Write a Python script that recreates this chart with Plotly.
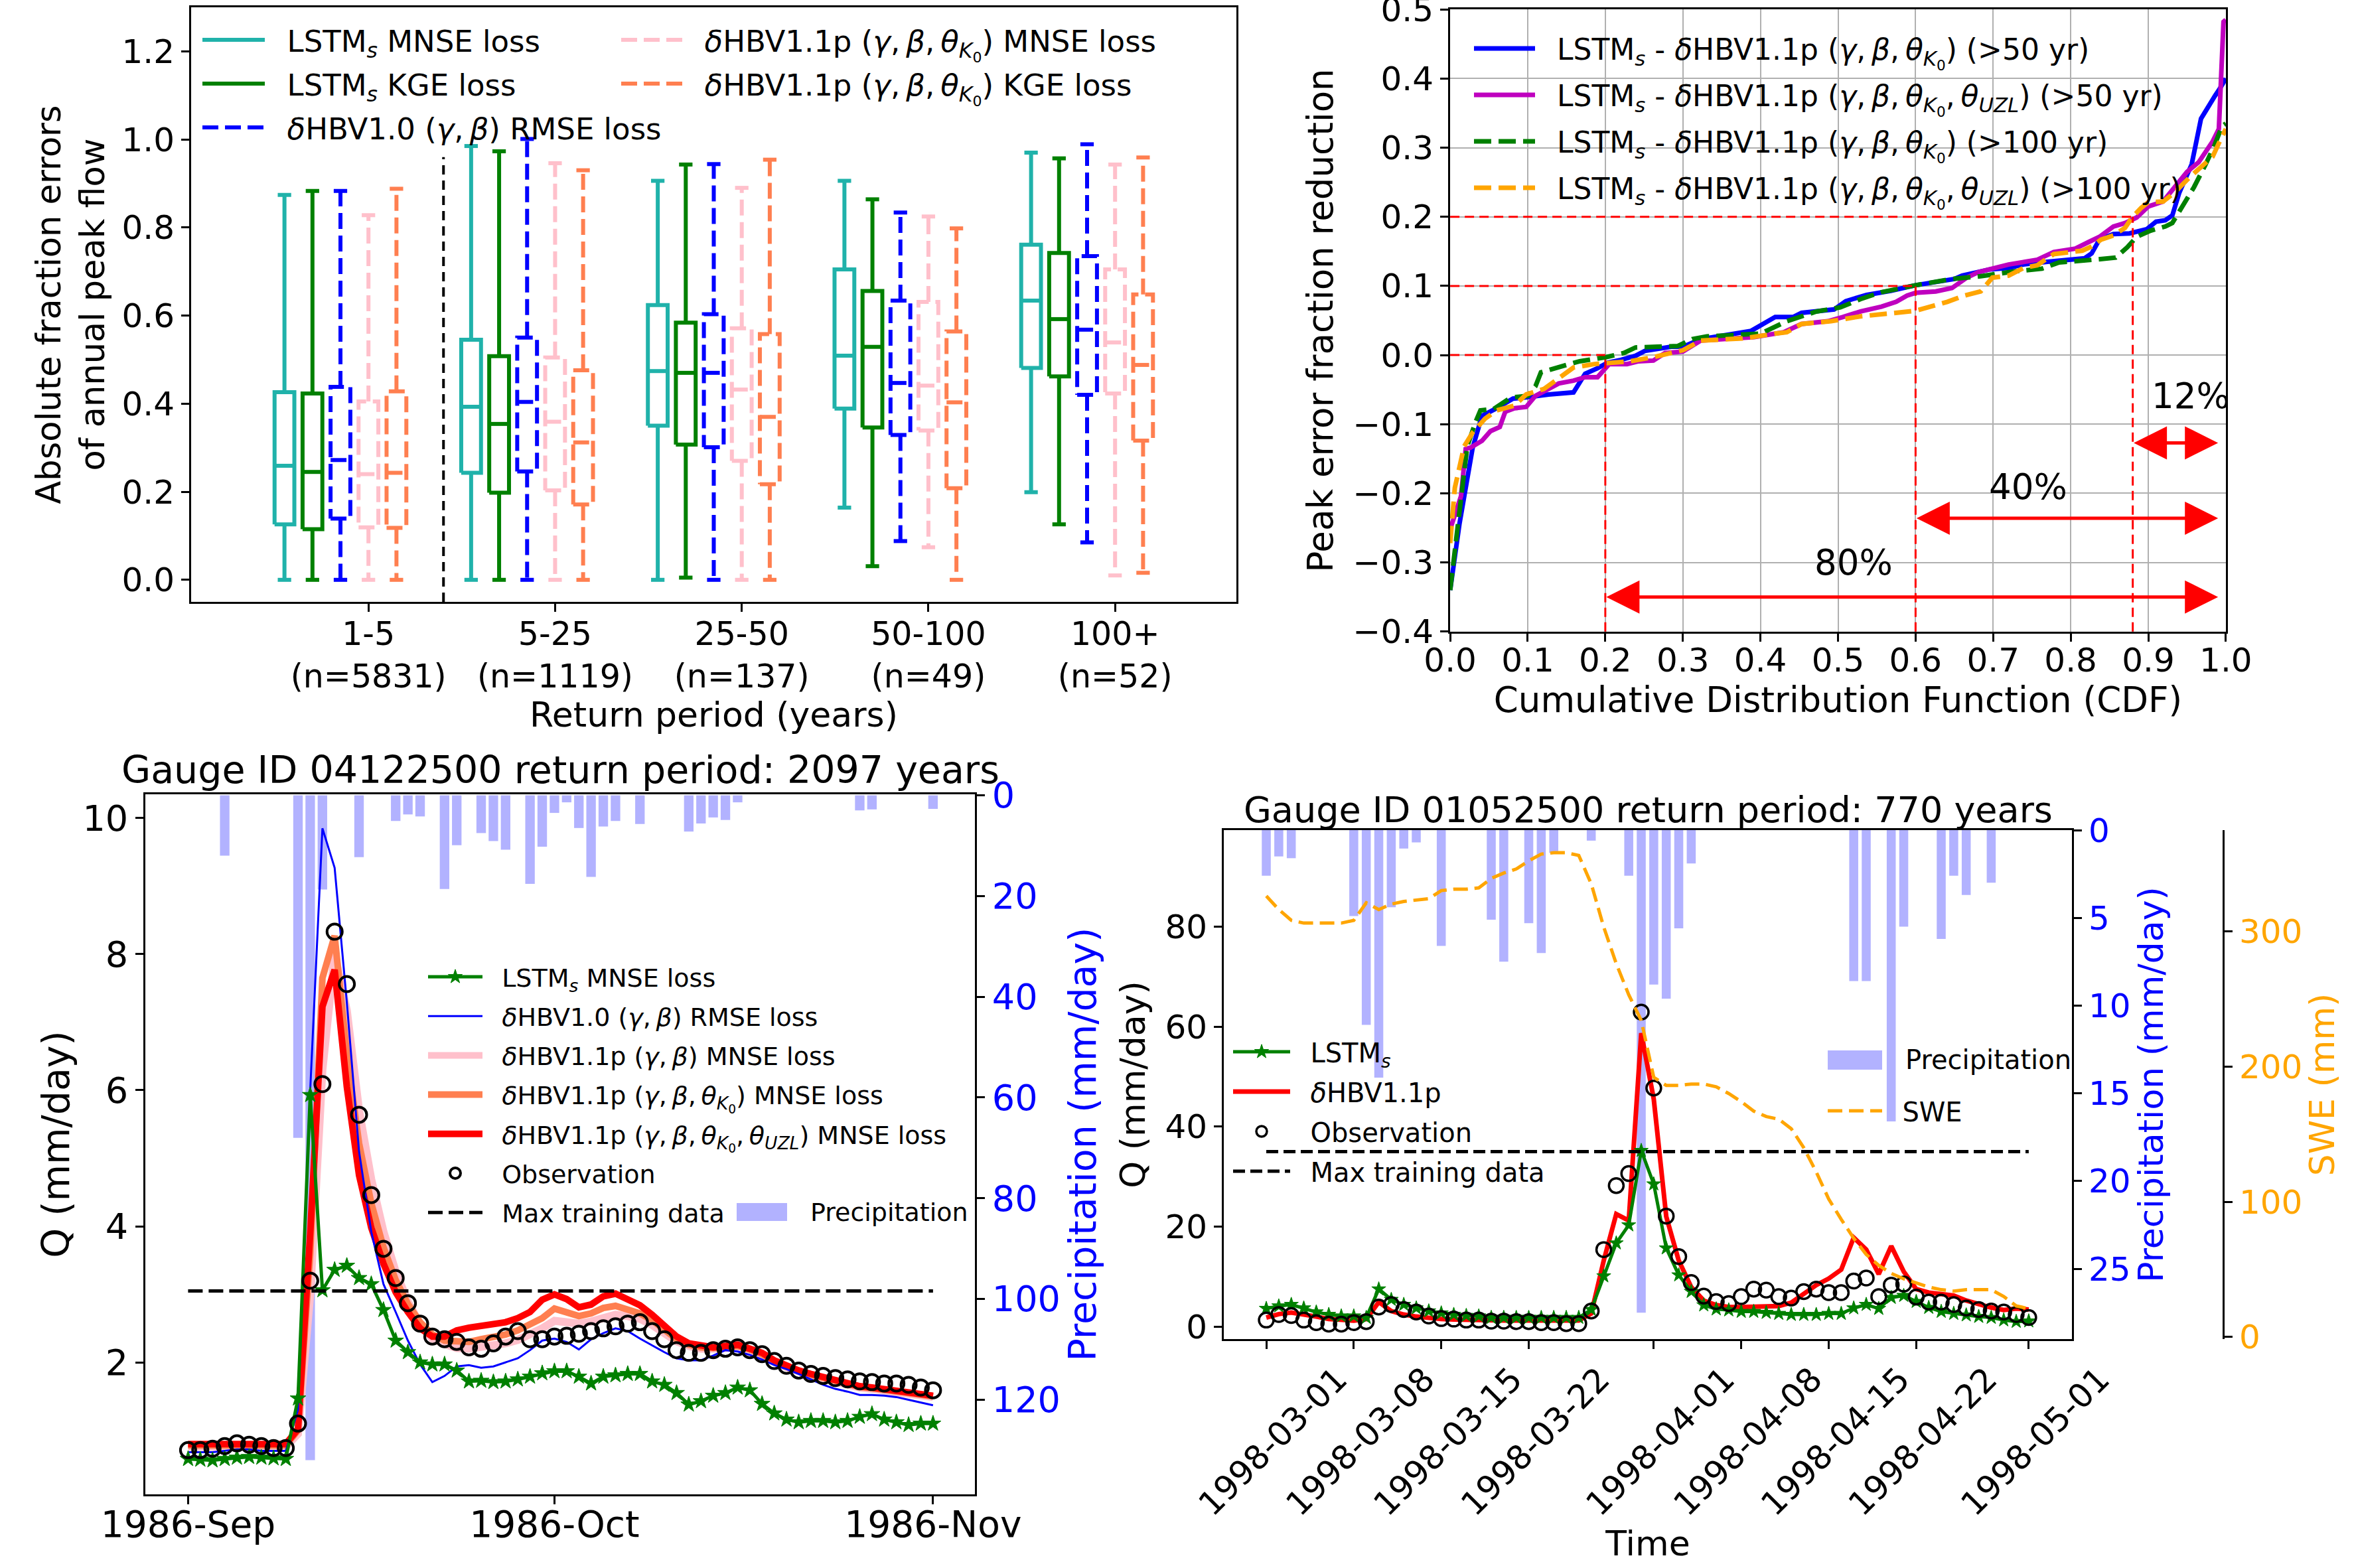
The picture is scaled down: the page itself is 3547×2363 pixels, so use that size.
import datetime as dt
import plotly.graph_objects as go

W, H = 3547, 2363
FONT = "DejaVu Sans"
NB = "\u00a0\u00a0"
TS = ",\u2009"

def px(p):
    return p / W

def py(p):
    return 1 - p / H

# ================= Panel A: box statistics =================
group_labels = ["1-5<br>(n=5831)", "5-25<br>(n=1119)", "25-50<br>(n=137)",
                "50-100<br>(n=49)", "100+<br>(n=52)"]
group_pos = [1, 2, 3, 4, 5]

lstm_mnse_low = [0.0, 0.0, 0.0, 0.164, 0.199]
lstm_mnse_q1 = [0.126, 0.243, 0.350, 0.389, 0.481]
lstm_mnse_med = [0.259, 0.393, 0.474, 0.509, 0.634]
lstm_mnse_q3 = [0.426, 0.545, 0.624, 0.705, 0.761]
lstm_mnse_high = [0.874, 0.985, 0.906, 0.906, 0.970]

lstm_kge_low = [0.0, 0.0, 0.005, 0.031, 0.126]
lstm_kge_q1 = [0.115, 0.198, 0.307, 0.346, 0.462]
lstm_kge_med = [0.245, 0.354, 0.470, 0.529, 0.592]
lstm_kge_q3 = [0.423, 0.508, 0.584, 0.656, 0.742]
lstm_kge_high = [0.883, 0.973, 0.943, 0.864, 0.957]

hbv10_low = [0.0, 0.0, 0.0, 0.088, 0.085]
hbv10_q1 = [0.139, 0.246, 0.301, 0.329, 0.420]
hbv10_med = [0.272, 0.404, 0.470, 0.447, 0.568]
hbv10_q3 = [0.438, 0.550, 0.603, 0.634, 0.735]
hbv10_high = [0.883, 1.001, 0.944, 0.834, 0.989]

hbv11_mnse_low = [0.0, 0.0, 0.0, 0.074, 0.010]
hbv11_mnse_q1 = [0.119, 0.203, 0.270, 0.339, 0.423]
hbv11_mnse_med = [0.240, 0.359, 0.432, 0.441, 0.539]
hbv11_mnse_q3 = [0.405, 0.505, 0.571, 0.631, 0.705]
hbv11_mnse_high = [0.828, 0.946, 0.890, 0.825, 0.943]

hbv11_kge_low = [0.0, 0.0, 0.0, 0.0, 0.016]
hbv11_kge_q1 = [0.118, 0.171, 0.217, 0.208, 0.316]
hbv11_kge_med = [0.243, 0.312, 0.370, 0.403, 0.488]
hbv11_kge_q3 = [0.428, 0.476, 0.558, 0.564, 0.648]
hbv11_kge_high = [0.888, 0.930, 0.954, 0.798, 0.959]

# ================= Panel B: CDF curves =================
cdf_a = [0.0, 0.012, 0.029, 0.041, 0.058, 0.081, 0.100, 0.127, 0.159, 0.174, 0.190, 0.203, 0.220,
         0.239, 0.251, 0.285, 0.300, 0.323, 0.388, 0.419, 0.442, 0.453, 0.495, 0.510, 0.537,
         0.568, 0.600, 0.632, 0.650, 0.660, 0.678, 0.696, 0.720, 0.739, 0.770, 0.818, 0.827,
         0.837, 0.855, 0.876, 0.898, 0.910, 0.922, 0.931, 0.940, 0.956, 0.968, 0.977, 0.986,
         0.992, 1.0]
val_a = [-0.340, -0.244, -0.134, -0.088, -0.078, -0.063, -0.061, -0.057, -0.054, -0.027, -0.019,
         -0.011, -0.007, -0.001, 0.006, 0.012, 0.012, 0.023, 0.035, 0.055, 0.055, 0.061, 0.066,
         0.078, 0.087, 0.093, 0.101, 0.107, 0.110, 0.115, 0.120, 0.124, 0.126, 0.131, 0.135,
         0.140, 0.147, 0.167, 0.175, 0.176, 0.182, 0.193, 0.195, 0.202, 0.235, 0.276, 0.342,
         0.360, 0.375, 0.385, 0.400]

cdf_b = [0.0, 0.014, 0.020, 0.026, 0.041, 0.052, 0.064, 0.071, 0.083, 0.098, 0.110, 0.140, 0.159,
         0.174, 0.190, 0.205, 0.228, 0.243, 0.262, 0.277, 0.300, 0.323, 0.392, 0.415, 0.430,
         0.453, 0.487, 0.506, 0.529, 0.556, 0.575, 0.589, 0.600, 0.626, 0.647, 0.666, 0.681,
         0.720, 0.757, 0.778, 0.806, 0.824, 0.837, 0.855, 0.870, 0.885, 0.900, 0.919, 0.934,
         0.950, 0.965, 0.983, 0.991, 0.997, 1.0]
val_b = [-0.252, -0.204, -0.136, -0.134, -0.124, -0.110, -0.104, -0.082, -0.077, -0.075, -0.059,
         -0.041, -0.037, -0.032, -0.032, -0.013, -0.013, -0.009, -0.008, 0.003, 0.005, 0.021,
         0.026, 0.031, 0.033, 0.045, 0.049, 0.055, 0.063, 0.070, 0.077, 0.086, 0.090, 0.092,
         0.097, 0.112, 0.120, 0.131, 0.138, 0.149, 0.154, 0.164, 0.171, 0.186, 0.191, 0.199,
         0.215, 0.222, 0.243, 0.265, 0.279, 0.309, 0.327, 0.482, 0.485]

cdf_c = [0.0, 0.010, 0.022, 0.033, 0.039, 0.056, 0.075, 0.083, 0.100, 0.110, 0.117, 0.148, 0.167,
         0.201, 0.224, 0.239, 0.293, 0.312, 0.331, 0.400, 0.415, 0.434, 0.472, 0.503, 0.529,
         0.556, 0.600, 0.647, 0.684, 0.727, 0.763, 0.785, 0.830, 0.858, 0.873, 0.885, 0.903,
         0.922, 0.931, 0.943, 0.959, 0.974, 0.986, 0.995, 1.0]
val_c = [-0.340, -0.244, -0.132, -0.096, -0.080, -0.078, -0.064, -0.061, -0.059, -0.045, -0.025,
         -0.015, -0.009, -0.003, 0.003, 0.011, 0.013, 0.023, 0.027, 0.031, 0.039, 0.049, 0.063,
         0.069, 0.081, 0.091, 0.101, 0.110, 0.114, 0.121, 0.125, 0.134, 0.138, 0.141, 0.156,
         0.171, 0.180, 0.186, 0.191, 0.213, 0.243, 0.276, 0.305, 0.331, 0.335]

cdf_d = [0.0, 0.006, 0.018, 0.029, 0.045, 0.060, 0.083, 0.098, 0.121, 0.144, 0.159, 0.186, 0.209,
         0.232, 0.262, 0.300, 0.323, 0.377, 0.419, 0.434, 0.453, 0.491, 0.529, 0.556, 0.586,
         0.600, 0.641, 0.663, 0.684, 0.699, 0.720, 0.739, 0.757, 0.778, 0.815, 0.827, 0.839,
         0.855, 0.870, 0.879, 0.891, 0.900, 0.919, 0.934, 0.953, 0.968, 0.983, 0.992, 1.0]
val_d = [-0.272, -0.192, -0.132, -0.112, -0.092, -0.080, -0.073, -0.057, -0.049, -0.029, -0.018,
         -0.013, -0.011, -0.009, -0.003, 0.007, 0.021, 0.024, 0.031, 0.033, 0.045, 0.049, 0.056,
         0.059, 0.063, 0.064, 0.077, 0.086, 0.092, 0.112, 0.115, 0.126, 0.130, 0.146, 0.151,
         0.157, 0.167, 0.173, 0.184, 0.199, 0.213, 0.221, 0.222, 0.235, 0.257, 0.272, 0.287,
         0.309, 0.327]

# ================= Panel C: gauge 04122500 =================
c_start = dt.date(1986, 9, 1)
c_obs = [0.71, 0.71, 0.73, 0.77, 0.81, 0.79, 0.77, 0.74, 0.74, 1.10, 3.20, 6.09, 8.33, 7.56, 5.64,
         4.46, 3.67, 3.24, 2.87, 2.57, 2.38, 2.34, 2.30, 2.22, 2.20, 2.28, 2.38, 2.46, 2.34, 2.34,
         2.38, 2.39, 2.42, 2.46, 2.50, 2.53, 2.57, 2.59, 2.46, 2.34, 2.18, 2.14, 2.14, 2.18, 2.20,
         2.22, 2.18, 2.12, 2.02, 1.95, 1.88, 1.83, 1.80, 1.77, 1.75, 1.72, 1.71, 1.69, 1.69, 1.67,
         1.63, 1.59]
c_lstm = [0.58, 0.57, 0.56, 0.58, 0.60, 0.61, 0.60, 0.59, 0.58, 1.47, 5.93, 3.06, 3.36, 3.42, 3.24,
          3.15, 2.77, 2.32, 2.15, 2.00, 1.97, 1.97, 1.88, 1.72, 1.73, 1.71, 1.72, 1.75, 1.79, 1.84,
          1.87, 1.87, 1.79, 1.69, 1.79, 1.81, 1.83, 1.83, 1.72, 1.67, 1.55, 1.38, 1.43, 1.51, 1.55,
          1.63, 1.59, 1.39, 1.25, 1.16, 1.12, 1.14, 1.14, 1.12, 1.14, 1.20, 1.24, 1.16, 1.12, 1.08,
          1.10, 1.10]
c_hbv10 = [0.68, 0.68, 0.68, 0.70, 0.72, 0.72, 0.70, 0.70, 0.70, 1.30, 6.00, 9.85, 9.27, 7.29, 5.10,
           3.92, 3.15, 2.74, 2.32, 1.97, 1.71, 1.80, 1.94, 1.96, 1.92, 1.94, 2.00, 2.06, 2.18, 2.32,
           2.35, 2.30, 2.19, 2.34, 2.43, 2.50, 2.46, 2.35, 2.25, 2.15, 2.06, 2.03, 2.03, 2.10, 2.18,
           2.16, 2.11, 2.04, 1.96, 1.90, 1.83, 1.75, 1.67, 1.61, 1.57, 1.52, 1.52, 1.51, 1.49, 1.45,
           1.41, 1.37]
c_hbv11_gb = [0.76, 0.76, 0.76, 0.76, 0.78, 0.78, 0.76, 0.76, 0.76, 0.95, 3.00, 6.30, 8.00, 7.17,
              5.70, 4.69, 3.92, 3.33, 2.89, 2.56, 2.35, 2.27, 2.21, 2.20, 2.22, 2.25, 2.28, 2.33,
              2.40, 2.50, 2.61, 2.60, 2.57, 2.60, 2.66, 2.70, 2.68, 2.64, 2.55, 2.43, 2.31, 2.24,
              2.20, 2.20, 2.21, 2.22, 2.18, 2.11, 2.01, 1.93, 1.86, 1.81, 1.76, 1.71, 1.66, 1.63,
              1.61, 1.59, 1.57, 1.55, 1.52, 1.49]
c_hbv11_k0 = [0.78, 0.78, 0.78, 0.78, 0.80, 0.80, 0.78, 0.78, 0.78, 1.00, 3.60, 7.65, 8.27, 6.53,
              5.22, 4.34, 3.69, 3.21, 2.86, 2.59, 2.41, 2.32, 2.30, 2.30, 2.34, 2.37, 2.41, 2.47,
              2.55, 2.65, 2.79, 2.74, 2.68, 2.72, 2.80, 2.83, 2.78, 2.72, 2.62, 2.48, 2.34, 2.26,
              2.22, 2.21, 2.22, 2.24, 2.19, 2.12, 2.02, 1.94, 1.87, 1.82, 1.77, 1.72, 1.67, 1.64,
              1.62, 1.60, 1.58, 1.56, 1.53, 1.50]
c_hbv11_uzl = [0.80, 0.80, 0.80, 0.80, 0.82, 0.82, 0.80, 0.80, 0.80, 1.02, 3.90, 7.23, 7.77, 6.05,
               4.75, 3.98, 3.45, 3.03, 2.74, 2.50, 2.38, 2.38, 2.47, 2.51, 2.53, 2.56, 2.59, 2.65,
               2.74, 2.92, 3.00, 2.93, 2.81, 2.85, 2.97, 3.01, 2.93, 2.84, 2.70, 2.55, 2.38, 2.28,
               2.24, 2.22, 2.24, 2.26, 2.20, 2.14, 2.03, 1.95, 1.88, 1.83, 1.78, 1.73, 1.68, 1.65,
               1.63, 1.61, 1.59, 1.57, 1.54, 1.51]
c_prcp = [0, 0, 0, 12.0, 0, 0, 0, 0, 0, 68.0, 132.0, 18.7, 0, 0, 12.3, 0, 0, 5.1, 3.8, 4.2, 0, 18.6,
          9.9, 0, 7.5, 9.1, 10.8, 0, 17.6, 10.2, 3.5, 1.4, 6.5, 16.2, 6.2, 5.1, 0, 5.7, 0, 0, 0,
          7.2, 5.6, 4.4, 4.9, 1.4, 0, 0, 0, 0, 0, 0, 0, 0, 0, 3.0, 2.8, 0, 0, 0, 0, 2.7]
c_max_train = 3.05

# ================= Panel D: gauge 01052500 =================
d_start = dt.date(1998, 3, 1)
d_obs = [1.3, 2.4, 2.2, 1.3, 0.8, 0.5, 0.5, 0.8, 1.0, 3.9, 4.4, 3.4, 2.9, 2.1, 1.6, 1.5, 1.3, 1.3,
         1.1, 1.1, 1.0, 1.0, 0.8, 0.8, 0.6, 0.6, 3.1, 15.4, 28.2, 30.6, 62.9, 47.7, 22.1, 14.0, 8.8,
         6.1, 5.0, 4.6, 6.0, 7.5, 7.3, 6.0, 5.7, 7.0, 7.5, 6.8, 6.8, 9.1, 9.7, 6.0, 8.3, 8.5, 5.9,
         4.9, 4.9, 4.4, 3.7, 3.4, 3.1, 2.9, 2.4, 1.8]
d_hbv = [1.8, 2.5, 2.8, 2.5, 2.0, 1.5, 1.3, 1.2, 1.5, 4.9, 3.1, 2.4, 2.0, 1.7, 1.5, 1.4, 1.3, 1.3, 1.2,
         1.2, 1.2, 1.2, 1.1, 1.1, 1.1, 1.2, 2.6, 13.2, 22.5, 21.2, 58.7, 45.5, 22.0, 13.2, 7.9, 5.2,
         4.3, 3.9, 3.9, 3.9, 3.9, 4.1, 4.8, 6.6, 8.3, 9.6, 11.4, 17.8, 15.4, 10.5, 16.1, 11.0, 7.5,
         6.8, 6.5, 6.2, 5.2, 4.4, 3.8, 3.3, 3.6, 3.4]
d_lstm = [3.6, 4.1, 4.4, 3.7, 2.9, 2.4, 2.1, 2.1, 1.8, 7.5, 5.4, 4.4, 3.7, 3.1, 2.7, 2.4, 2.2, 2.1,
          1.8, 1.8, 1.8, 1.8, 1.8, 1.8, 1.8, 1.8, 3.4, 10.1, 16.7, 20.3, 35.2, 28.5, 15.7, 10.3, 7.0,
          4.3, 3.5, 3.3, 3.0, 3.0, 2.8, 2.6, 2.4, 2.4, 2.4, 2.6, 2.6, 3.7, 4.4, 3.6, 5.8, 6.2, 5.0,
          3.8, 3.0, 2.6, 2.3, 2.0, 1.8, 1.3, 1.0, 1.1]
d_swe = [326, 316, 308, 306, 306, 306, 306, 308, 321, 316, 320, 322, 323, 324, 330, 331, 331, 332,
         339, 343, 346, 352, 357, 358, 358, 356, 335, 303, 276, 253, 234, 192, 186, 186, 187, 187,
         185, 180, 174, 167, 163, 161, 154, 140, 122, 102, 87, 73, 61, 53, 47, 43, 40, 37, 35, 34,
         35, 35, 35, 30, 23, 21]
d_prcp = [2.6, 1.5, 1.6, 0, 0, 0, 0, 4.9, 11.1, 14.1, 4.4, 1.05, 0.7, 0, 6.6, 0, 0, 0, 5.1, 7.5, 0,
          5.3, 7.0, 1.3, 0, 0, 0.6, 0, 0, 2.6, 27.5, 8.8, 9.6, 5.6, 1.9, 0, 0, 0, 0, 0, 0, 0, 0, 0,
          0, 0, 0, 8.6, 8.6, 0, 16.6, 5.5, 0, 0, 6.2, 2.6, 3.7, 0, 3.0, 0, 0, 0]
d_max_train = 35.0
d_ticks = ["1998-03-01", "1998-03-08", "1998-03-15", "1998-03-22", "1998-04-01",
           "1998-04-08", "1998-04-15", "1998-04-22", "1998-05-01"]


def dates(start, n):
    return [(start + dt.timedelta(days=i)).isoformat() for i in range(n)]


c_dates = dates(c_start, len(c_obs))
d_dates = dates(d_start, len(d_obs))

fig = go.Figure()

# ---------- Panel A boxes ----------
def box_path(pos, low, q1, med, q3, high, hw=0.053, cw=0.036):
    xs, ys = [], []
    for p, lo, a, m, b, hi in zip(pos, low, q1, med, q3, high):
        xs += [p - hw, p + hw, p + hw, p - hw, p - hw, None]
        ys += [a, a, b, b, a, None]
        xs += [p - hw, p + hw, None]
        ys += [m, m, None]
        xs += [p, p, None]
        ys += [a, lo, None]
        xs += [p, p, None]
        ys += [b, hi, None]
        xs += [p - cw, p + cw, None]
        ys += [lo, lo, None]
        xs += [p - cw, p + cw, None]
        ys += [hi, hi, None]
    return xs, ys


k0 = "<i>θ</i><sub><i>K</i><sub>0</sub></sub>"
uzl = "<i>θ</i><sub><i>UZL</i></sub>"
lstm = "LSTM<sub><i>s</i></sub>"
gb = "(<i>γ</i>" + TS + "<i>β</i>"

box_series = [
    (lstm + " MNSE loss", -0.45, "#20B2AA", "solid", "legend",
     lstm_mnse_low, lstm_mnse_q1, lstm_mnse_med, lstm_mnse_q3, lstm_mnse_high),
    (lstm + " KGE loss", -0.30, "#008000", "solid", "legend",
     lstm_kge_low, lstm_kge_q1, lstm_kge_med, lstm_kge_q3, lstm_kge_high),
    ("<i>δ</i>HBV1.0 " + gb + ") RMSE loss", -0.15, "#0000FF", "24px,10px", "legend",
     hbv10_low, hbv10_q1, hbv10_med, hbv10_q3, hbv10_high),
    ("<i>δ</i>HBV1.1p " + gb + TS + k0 + ") MNSE loss", 0.0,
     "#FFC0CB", "24px,10px", "legend2",
     hbv11_mnse_low, hbv11_mnse_q1, hbv11_mnse_med, hbv11_mnse_q3, hbv11_mnse_high),
    ("<i>δ</i>HBV1.1p " + gb + TS + k0 + ") KGE loss", 0.15,
     "#FF7F50", "24px,10px", "legend2",
     hbv11_kge_low, hbv11_kge_q1, hbv11_kge_med, hbv11_kge_q3, hbv11_kge_high),
]
for i, (name, off, col, dash, leg, lo, a, m, b, hi) in enumerate(box_series):
    pos = [g + off for g in group_pos]
    xs, ys = box_path(pos, lo, a, m, b, hi)
    fig.add_trace(go.Scatter(x=xs, y=ys, mode="lines", name=NB + name,
                             line=dict(color=col, width=6, dash=dash),
                             legend=leg, legendgroup="a%d" % i,
                             xaxis="x", yaxis="y", hoverinfo="skip"))

# ---------- Panel B curves ----------
cdf_series = [
    (lstm + " - <i>δ</i>HBV1.1p " + gb + TS + k0 + ") (>50 yr)", cdf_a, val_a, "#0000FF", "solid"),
    (lstm + " - <i>δ</i>HBV1.1p " + gb + TS + k0 + TS + uzl + ") (>50 yr)", cdf_b, val_b, "#BF00BF", "solid"),
    (lstm + " - <i>δ</i>HBV1.1p " + gb + TS + k0 + ") (>100 yr)", cdf_c, val_c, "#008000", "26px,11px"),
    (lstm + " - <i>δ</i>HBV1.1p " + gb + TS + k0 + TS + uzl + ") (>100 yr)", cdf_d, val_d, "#FFA500", "26px,11px"),
]
for i, (name, xv, yv, col, dash) in enumerate(cdf_series):
    fig.add_trace(go.Scatter(x=xv, y=yv, mode="lines", name=NB + name,
                             line=dict(color=col, width=7, dash=dash),
                             legend="legend3", legendgroup="b%d" % i,
                             xaxis="x2", yaxis="y2", hoverinfo="skip"))

# ---------- Panel C ----------
fig.add_trace(go.Bar(x=c_dates, y=c_prcp, marker=dict(color="rgba(0,0,255,0.3)", line=dict(width=0)),
                     width=0.78 * 86400000, name="Precipitation", showlegend=False,
                     xaxis="x3", yaxis="y3", hoverinfo="skip"))
c_lines = [
    ("<i>δ</i>HBV1.1p " + gb + ") MNSE loss", c_hbv11_gb, "#FFC0CB", 12, 3),
    ("<i>δ</i>HBV1.1p " + gb + TS + k0 + ") MNSE loss", c_hbv11_k0, "#FF7F50", 10, 4),
    ("<i>δ</i>HBV1.1p " + gb + TS + k0 + TS + uzl + ") MNSE loss", c_hbv11_uzl, "#FF0000", 10, 5),
    ("<i>δ</i>HBV1.0 " + gb + ") RMSE loss", c_hbv10, "#0000FF", 3, 2),
]
for name, yv, col, wd, rank in c_lines:
    fig.add_trace(go.Scatter(x=c_dates, y=yv, mode="lines", name=NB + name,
                             line=dict(color=col, width=wd), legend="legend4", legendgroup="c%d" % rank,
                             legendrank=rank, xaxis="x3", yaxis="y4", hoverinfo="skip"))
fig.add_trace(go.Scatter(x=c_dates, y=c_lstm, mode="lines+markers", name=NB + lstm + " MNSE loss",
                         line=dict(color="#008000", width=5),
                         marker=dict(symbol="star", size=18, color="#008000", line=dict(color="#008000", width=1)),
                         legend="legend4", legendgroup="c1", legendrank=1,
                         xaxis="x3", yaxis="y4", hoverinfo="skip"))
fig.add_trace(go.Scatter(x=c_dates, y=c_obs, mode="markers", name=NB + "Observation",
                         marker=dict(symbol="circle-open", size=23, color="black", line=dict(color="black", width=4)),
                         legend="legend4", legendgroup="c6", legendrank=6,
                         xaxis="x3", yaxis="y4", hoverinfo="skip"))
fig.add_trace(go.Scatter(x=[c_dates[0], c_dates[-1]], y=[c_max_train, c_max_train], mode="lines",
                         name=NB + "Max training data", line=dict(color="black", width=5, dash="22px,9px"),
                         legend="legend4", legendgroup="c7", legendrank=7,
                         xaxis="x3", yaxis="y4", hoverinfo="skip"))

# ---------- Panel D ----------
fig.add_trace(go.Bar(x=d_dates, y=d_prcp, marker=dict(color="rgba(0,0,255,0.3)", line=dict(width=0)),
                     width=0.72 * 86400000, name="Precipitation", showlegend=False,
                     xaxis="x4", yaxis="y5", hoverinfo="skip"))
fig.add_trace(go.Scatter(x=d_dates, y=d_swe, mode="lines", name=NB + "SWE",
                         line=dict(color="#FFA500", width=5, dash="22px,10px"),
                         legend="legend6", xaxis="x4", yaxis="y7", hoverinfo="skip"))
fig.add_trace(go.Scatter(x=d_dates, y=d_hbv, mode="lines", name=NB + "<i>δ</i>HBV1.1p",
                         line=dict(color="#FF0000", width=7), legend="legend5", legendgroup="d2",
                         legendrank=2, xaxis="x4", yaxis="y6", hoverinfo="skip"))
fig.add_trace(go.Scatter(x=d_dates, y=d_lstm, mode="lines+markers", name=NB + lstm,
                         line=dict(color="#008000", width=5),
                         marker=dict(symbol="star", size=16, color="#008000", line=dict(color="#008000", width=1)),
                         legend="legend5", legendgroup="d1", legendrank=1,
                         xaxis="x4", yaxis="y6", hoverinfo="skip"))
fig.add_trace(go.Scatter(x=d_dates, y=d_obs, mode="markers", name=NB + "Observation",
                         marker=dict(symbol="circle-open", size=22, color="black", line=dict(color="black", width=3.5)),
                         legend="legend5", legendgroup="d3", legendrank=3,
                         xaxis="x4", yaxis="y6", hoverinfo="skip"))
fig.add_trace(go.Scatter(x=[d_dates[0], d_dates[-1]], y=[d_max_train, d_max_train], mode="lines",
                         name=NB + "Max training data", line=dict(color="black", width=5, dash="18px,8px"),
                         legend="legend5", legendgroup="d4", legendrank=4,
                         xaxis="x4", yaxis="y6", hoverinfo="skip"))

# ---------- axes ----------
ax_common = dict(showline=True, linecolor="black", linewidth=3, ticks="outside", ticklen=12,
                 tickwidth=3, tickcolor="black", zeroline=False, showgrid=False, automargin=False,
                 ticklabeloverflow="allow")

def tf(s, c="black"):
    return dict(family=FONT, size=s, color=c)

layout = dict(
    width=W, height=H, autosize=False,
    margin=dict(l=0, r=0, t=0, b=0, pad=0, autoexpand=False),
    paper_bgcolor="white", plot_bgcolor="rgba(0,0,0,0)",
    font=dict(family=FONT, color="black"),
    showlegend=True,
    xaxis=dict(ax_common, domain=[px(288), px(1863)], range=[0.05, 5.65], anchor="y", mirror=True,
               tickvals=group_pos, ticktext=group_labels, tickfont=tf(49), ticklabelstandoff=-9,
               title=dict(text="Return period (years)", font=tf(52), standoff=6)),
    yaxis=dict(ax_common, domain=[py(907), py(11)], range=[-0.05, 1.3], anchor="x", mirror=True,
               tickvals=[0, 0.2, 0.4, 0.6, 0.8, 1.0, 1.2], tickformat=".1f", tickfont=tf(50),
               title=dict(text="Absolute fraction errors<br>of annual peak flow", font=tf(51), standoff=10)),
    xaxis2=dict(ax_common, domain=[px(2185), px(3354)], range=[-0.0001, 1.0001], anchor="y2", mirror=True,
                dtick=0.1, tick0=0, tickformat=".1f", tickfont=tf(50), showgrid=True,
                gridcolor="#b0b0b0", gridwidth=2, ticklabelstandoff=-15,
                title=dict(text="Cumulative Distribution Function (CDF)", font=tf(53), standoff=8)),
    yaxis2=dict(ax_common, domain=[py(952), py(14)], range=[-0.4002, 0.5002], anchor="x2", mirror=True,
                dtick=0.1, tick0=0, tickformat=".1f", tickfont=tf(50), showgrid=True,
                gridcolor="#b0b0b0", gridwidth=2,
                title=dict(text="Peak error fraction reduction", font=tf(53), standoff=14)),
    xaxis3=dict(ax_common, domain=[px(219), px(1469)], type="date", anchor="y3", mirror=True,
                range=["1986-08-28 12:00", "1986-11-04 10:20"],
                tickvals=["1986-09-01", "1986-10-01", "1986-11-01"],
                ticktext=["1986-Sep", "1986-Oct", "1986-Nov"], tickfont=tf(55), ticklabelstandoff=-17),
    yaxis3=dict(ax_common, domain=[py(2252), py(1197)], range=[138.8, -0.2], anchor="x3", side="right",
                tickvals=[0, 20, 40, 60, 80, 100, 120], tickfont=tf(54, "#0000FF"),
                title=dict(text="Precipitation (mm/day)", font=tf(57, "#0000FF"), standoff=14)),
    yaxis4=dict(ax_common, overlaying="y3", anchor="x3", side="left", range=[0.06, 10.35],
                tickvals=[2, 4, 6, 8, 10], tickfont=tf(54),
                title=dict(text="Q (mm/day)", font=tf(57), standoff=2)),
    xaxis4=dict(ax_common, domain=[px(1844), px(3122)], type="date", anchor="y5", mirror=True,
                range=["1998-02-25 14:24", "1998-05-04 11:00"],
                tickvals=d_ticks, ticktext=d_ticks, tickangle=-45, ticklabelshift=107,
                ticklabelstandoff=-4, tickfont=tf(50),
                title=dict(text="Time", font=tf(52), standoff=0)),
    yaxis5=dict(ax_common, domain=[py(2018), py(1251)], range=[29.0, 0], anchor="x4", side="right",
                tickvals=[0, 5, 10, 15, 20, 25], tickfont=tf(50, "#0000FF"),
                title=dict(text="Precipitation (mm/day)", font=tf(52, "#0000FF"), standoff=10)),
    yaxis6=dict(ax_common, overlaying="y5", anchor="x4", side="left", range=[-2.5, 99.3],
                tickvals=[0, 20, 40, 60, 80], tickfont=tf(50),
                title=dict(text="Q (mm/day)", font=tf(52), standoff=14)),
    yaxis7=dict(ax_common, overlaying="y5", anchor="free", position=px(3350), side="right",
                range=[-1.5, 374.7], tickvals=[0, 100, 200, 300], tickfont=tf(50, "#FFA500"),
                title=dict(text="SWE (mm)", font=tf(52, "#FFA500"), standoff=10)),
)

def legend_at(left_px, first_center_px, font, itemwidth, gap):
    h = font * 1.3 + 3
    top = first_center_px - 5 - h / 2
    return dict(x=px(left_px - 5), y=py(top), xanchor="left", yanchor="top",
                bgcolor="rgba(0,0,0,0)", borderwidth=0, font=dict(family=FONT, size=font, color="black"),
                itemwidth=itemwidth, traceorder="grouped", tracegroupgap=gap, itemclick=False)

layout["legend"] = legend_at(305, 60, 45, 94, 4.5)
layout["legend2"] = legend_at(936, 60, 45, 92, 4.5)
layout["legend3"] = legend_at(2221, 73, 44, 92, 9.8)
layout["legend4"] = legend_at(645, 1472, 38, 82, 6.8)
layout["legend5"] = legend_at(1858, 1585, 40, 86, 5)
layout["legend6"] = legend_at(2754, 1674, 40, 82, 0)

fig.update_layout(**layout)

# ---------- shapes: reference lines ----------
red_ref = dict(color="#FF0000", width=3, dash="14px,8px")
fig.add_shape(type="line", xref="x", yref="y", x0=1.402, x1=1.402, y0=-0.05, y1=0.96,
              line=dict(color="black", width=4, dash="14px,9px"))
for xv, yv in [(0.2, 0.0), (0.6, 0.1), (0.88, 0.2)]:
    fig.add_shape(type="line", xref="x2", yref="y2", x0=0, x1=xv, y0=yv, y1=yv, line=red_ref)
    fig.add_shape(type="line", xref="x2", yref="y2", x0=xv, x1=xv, y0=-0.4, y1=yv, line=red_ref)

# precipitation legend swatches
fig.add_shape(type="rect", xref="paper", yref="paper", x0=px(1110), x1=px(1186), y0=py(1840), y1=py(1813),
              fillcolor="rgba(0,0,255,0.3)", line=dict(width=0))
fig.add_shape(type="rect", xref="paper", yref="paper", x0=px(2754), x1=px(2836), y0=py(1612), y1=py(1583),
              fillcolor="rgba(0,0,255,0.3)", line=dict(width=0))

ann = []
ann.append(dict(text="Precipitation", x=px(1219), y=py(1827), xref="paper", yref="paper",
                xanchor="left", yanchor="middle", showarrow=False, font=tf(38)))
ann.append(dict(text="Precipitation", x=px(2869), y=py(1597), xref="paper", yref="paper",
                xanchor="left", yanchor="middle", showarrow=False, font=tf(40)))
ann.append(dict(text="Gauge ID 04122500 return period: 2097 years", x=px(844), y=py(1160),
                xref="paper", yref="paper", xanchor="center", yanchor="middle", showarrow=False, font=tf(57)))
ann.append(dict(text="Gauge ID 01052500 return period: 770 years", x=px(2483), y=py(1220),
                xref="paper", yref="paper", xanchor="center", yanchor="middle", showarrow=False, font=tf(54)))
# arrows in panel B
for x0, yv, lab, lx, ly in [(0.2, -0.35, "80%", 0.52, -0.30), (0.6, -0.236, "40%", 0.745, -0.19),
                             (0.88, -0.127, "12%", 0.955, -0.059)]:
    ann.append(dict(x=0.99, y=yv, ax=x0, ay=yv, xref="x2", yref="y2", axref="x2", ayref="y2",
                    text="", showarrow=True, arrowhead=2, startarrowhead=2, arrowside="end+start",
                    arrowsize=2.0, startarrowsize=2.0, arrowwidth=5, arrowcolor="#FF0000",
                    standoff=0, startstandoff=0))
    ann.append(dict(x=lx, y=ly, xref="x2", yref="y2", text=lab, showarrow=False, font=tf(53),
                    xanchor="center", yanchor="middle"))
fig.update_layout(annotations=ann)

fig.write_html("out.html")
